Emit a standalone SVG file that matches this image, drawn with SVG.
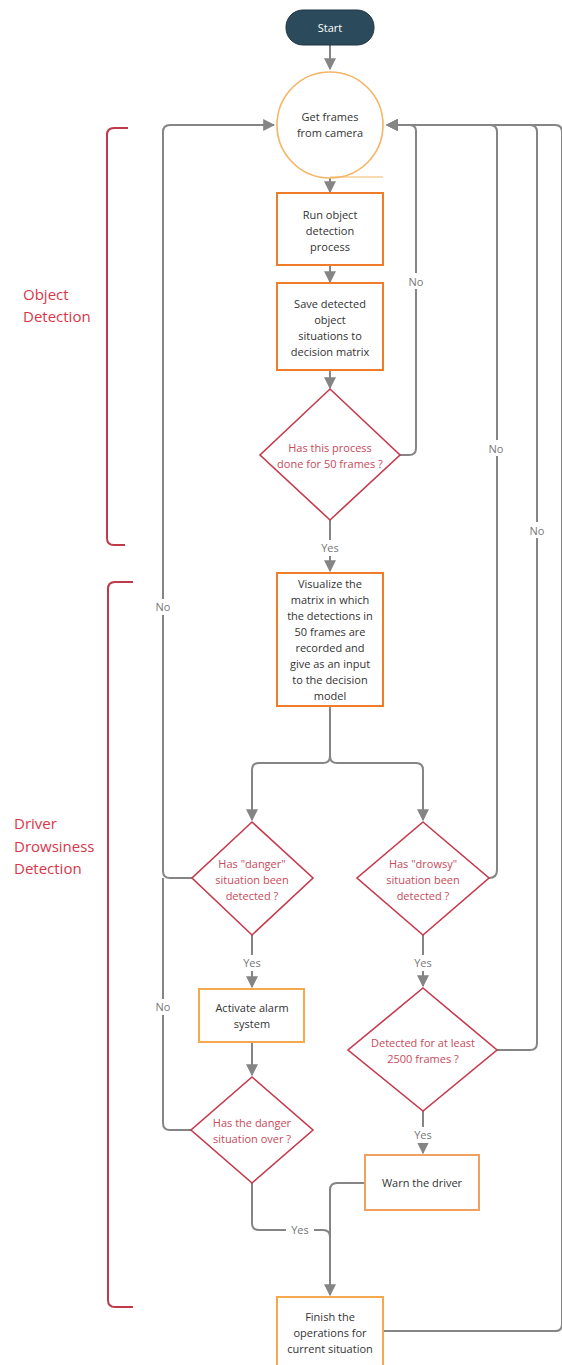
<svg xmlns="http://www.w3.org/2000/svg" width="562" height="1365" viewBox="0 0 562 1365">
<defs>
<style>
.conn{fill:none;stroke:#858585;stroke-width:2;}
.box{fill:#fff;stroke:#f07c2a;stroke-width:2;}
.dia{fill:#fff;stroke:#c53a4c;stroke-width:1.6;}
.t{font-family:"Open Sans","Noto Sans",sans-serif;font-size:11px;fill:#333;text-anchor:middle;}
.dt{font-family:"Open Sans","Noto Sans",sans-serif;font-size:11px;fill:#c84a5a;text-anchor:middle;}
.lbl{font-family:"Open Sans","Noto Sans",sans-serif;font-size:11px;fill:#777;text-anchor:middle;}
.sec{font-family:"Open Sans","Noto Sans",sans-serif;font-size:15px;fill:#d9364a;}
.br{fill:none;stroke:#c0394b;stroke-width:2;}
</style>
<marker id="ah" viewBox="0 0 10 10" refX="9" refY="5" markerWidth="6" markerHeight="6" orient="auto" markerUnits="strokeWidth">
<path d="M0,0 L10,5 L0,10 z" fill="#858585"/>
</marker>
</defs>
<rect width="562" height="1365" fill="#fff"/>

<g id="brackets">
<path class="br" d="M128,128 H114 Q107,128 107,135 V538 Q107,545 114,545 H125"/>
<text class="sec" x="23" y="300">Object</text>
<text class="sec" x="23" y="322">Detection</text>
<path class="br" d="M133,582 H115 Q108,582 108,589 V1300 Q108,1307 115,1307 H133"/>
<text class="sec" x="14" y="829">Driver</text>
<text class="sec" x="14" y="852">Drowsiness</text>
<text class="sec" x="14" y="874">Detection</text>
</g>

<g id="connectors">
<path class="conn" d="M330,45 V69" marker-end="url(#ah)"/>
<path class="conn" d="M330,178 V192" marker-end="url(#ah)"/>
<path class="conn" d="M330,265 V282" marker-end="url(#ah)"/>
<path class="conn" d="M330,370 V388" marker-end="url(#ah)"/>
<!-- finish loop -->
<path class="conn" d="M383,1331 H555 Q562,1331 562,1324 V132 Q562,125 555,125 H387" marker-end="url(#ah)"/>
<!-- 2500 no -->
<path class="conn" d="M497,1050 H530 Q537,1050 537,1043 V132 Q537,125 530,125 H387" marker-end="url(#ah)"/>
<!-- drowsy no -->
<path class="conn" d="M489,878 Q497,878 497,870 V132 Q497,125 490,125 H387" marker-end="url(#ah)"/>
<!-- diamond1 no -->
<path class="conn" d="M400,455 H409 Q416,455 416,448 V131 Q416,125 409,125 H387" marker-end="url(#ah)"/>
<rect x="406" y="273" width="20" height="16" fill="#fff"/>
<text class="lbl" x="416" y="286">No</text>
<rect x="486" y="440" width="22" height="16" fill="#fff"/>
<text class="lbl" x="496" y="453">No</text>
<rect x="526" y="522" width="22" height="16" fill="#fff"/>
<text class="lbl" x="537" y="535">No</text>
<!-- diamond1 yes -->
<path class="conn" d="M330,520 V571" marker-end="url(#ah)"/>
<rect x="316" y="540" width="28" height="16" fill="#fff"/>
<text class="lbl" x="330" y="552">Yes</text>
<!-- split -->
<path class="conn" d="M330,706 V756 Q330,763 323,763 H259 Q252,763 252,770 V820" marker-end="url(#ah)"/>
<path class="conn" d="M330,756 Q330,763 337,763 H416 Q423,763 423,770 V820" marker-end="url(#ah)"/>
<!-- left loop -->
<path class="conn" d="M192,878 H170 Q163,878 163,871 V132 Q163,125 170,125 H274" marker-end="url(#ah)"/>
<path class="conn" d="M191,1130 H170 Q163,1130 163,1123 V878"/>
<rect x="153" y="599" width="22" height="16" fill="#fff"/>
<text class="lbl" x="163" y="611">No</text>
<rect x="153" y="999" width="22" height="16" fill="#fff"/>
<text class="lbl" x="163" y="1011">No</text>
<!-- danger yes -->
<path class="conn" d="M252,935 V987" marker-end="url(#ah)"/>
<rect x="238" y="955" width="28" height="16" fill="#fff"/>
<text class="lbl" x="252" y="967">Yes</text>
<path class="conn" d="M252,1042 V1075" marker-end="url(#ah)"/>
<!-- danger over yes -->
<path class="conn" d="M252,1183 V1223 Q252,1230 259,1230 H323 Q330,1230 330,1237"/>
<rect x="286" y="1222" width="28" height="16" fill="#fff"/>
<text class="lbl" x="300" y="1234">Yes</text>
<!-- drowsy yes -->
<path class="conn" d="M423,935 V986" marker-end="url(#ah)"/>
<rect x="409" y="955" width="28" height="16" fill="#fff"/>
<text class="lbl" x="423" y="967">Yes</text>
<path class="conn" d="M423,1111 V1153" marker-end="url(#ah)"/>
<rect x="409" y="1127" width="28" height="16" fill="#fff"/>
<text class="lbl" x="423" y="1139">Yes</text>
<!-- warn to finish -->
<path class="conn" d="M365,1183 H337 Q330,1183 330,1190 V1295" marker-end="url(#ah)"/>
</g>

<g id="start">
<rect x="286" y="10" width="88" height="35" rx="17" fill="#2b4a5b" stroke="#1f3440" stroke-width="1"/>
<text class="t" x="330" y="32" style="fill:#fff">Start</text>
</g>

<g id="get-frames">
<circle cx="330" cy="125" r="53" fill="#fff" stroke="#f5b565" stroke-width="1.6"/>
<line x1="330" y1="177" x2="383" y2="177" stroke="#f5b565" stroke-width="1.2"/>
<text class="t" x="330" y="121">Get frames</text>
<text class="t" x="330" y="137">from camera</text>
</g>

<g id="run-detection">
<rect class="box" x="277" y="193" width="106" height="72"/>
<text class="t" x="330" y="219">Run object</text>
<text class="t" x="330" y="235">detection</text>
<text class="t" x="330" y="251">process</text>
</g>

<g id="save-detected">
<rect class="box" x="277" y="283" width="106" height="87"/>
<text class="t" x="330" y="308">Save detected</text>
<text class="t" x="330" y="324">object</text>
<text class="t" x="330" y="340">situations to</text>
<text class="t" x="330" y="356">decision matrix</text>
</g>

<g id="done-50">
<polygon class="dia" points="330,389 400,455 330,520 260,455"/>
<text class="dt" x="330" y="452">Has this process</text>
<text class="dt" x="330" y="468">done for 50 frames ?</text>
</g>

<g id="visualize">
<rect class="box" x="277" y="573" width="106" height="133"/>
<text class="t" x="330" y="588">Visualize the</text>
<text class="t" x="330" y="604">matrix in which</text>
<text class="t" x="330" y="620">the detections in</text>
<text class="t" x="330" y="636">50 frames are</text>
<text class="t" x="330" y="652">recorded and</text>
<text class="t" x="330" y="668">give as an input</text>
<text class="t" x="330" y="684">to the decision</text>
<text class="t" x="330" y="700">model</text>
</g>

<g id="danger">
<polygon class="dia" points="252,822 313,878 252,935 192,878"/>
<text class="dt" x="252" y="868">Has "danger"</text>
<text class="dt" x="252" y="884">situation been</text>
<text class="dt" x="252" y="900">detected ?</text>
</g>

<g id="drowsy">
<polygon class="dia" points="423,822 489,878 423,935 357,878"/>
<text class="dt" x="423" y="868">Has "drowsy"</text>
<text class="dt" x="423" y="884">situation been</text>
<text class="dt" x="423" y="900">detected ?</text>
</g>

<g id="alarm">
<rect class="box" x="199" y="989" width="105" height="53" style="stroke:#f5a94f"/>
<text class="t" x="252" y="1012">Activate alarm</text>
<text class="t" x="252" y="1028">system</text>
</g>

<g id="danger-over">
<polygon class="dia" points="252,1077 313,1130 252,1183 191,1130"/>
<text class="dt" x="252" y="1127">Has the danger</text>
<text class="dt" x="252" y="1143">situation over ?</text>
</g>

<g id="frames-2500">
<polygon class="dia" points="423,988 497,1050 423,1111 348,1050"/>
<text class="dt" x="423" y="1047">Detected for at least</text>
<text class="dt" x="423" y="1063">2500 frames ?</text>
</g>

<g id="warn">
<rect class="box" x="365" y="1155" width="114" height="55" style="stroke:#f0a060"/>
<text class="t" x="422" y="1187">Warn the driver</text>
</g>

<g id="finish">
<rect class="box" x="277" y="1297" width="106" height="70" style="stroke:#f5a94f"/>
<text class="t" x="330" y="1321">Finish the</text>
<text class="t" x="330" y="1337">operations for</text>
<text class="t" x="330" y="1353">current situation</text>
</g>
</svg>
